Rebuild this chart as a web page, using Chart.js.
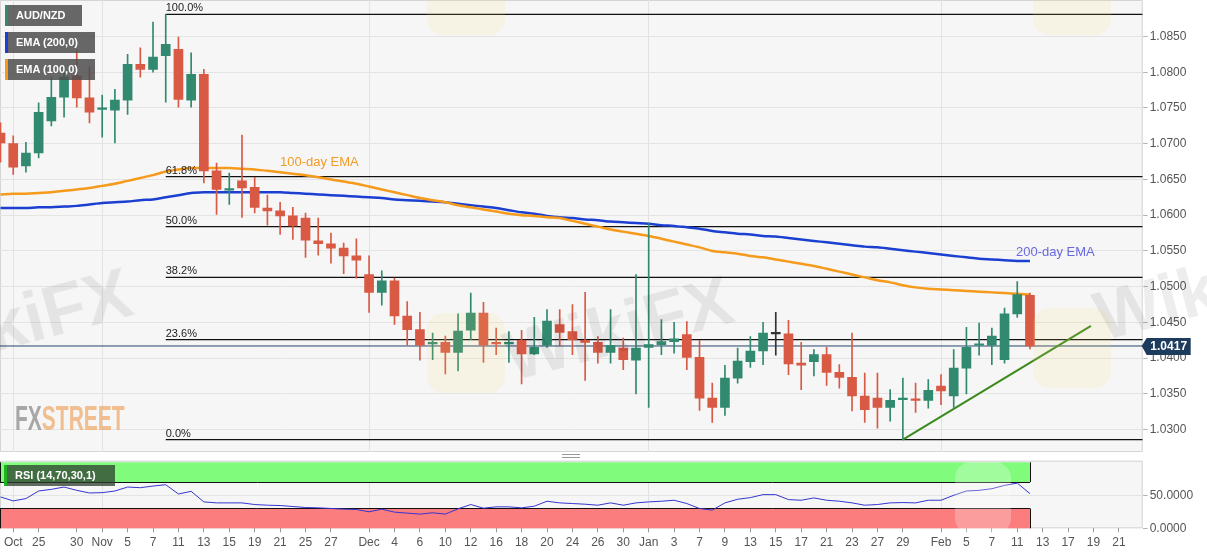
<!doctype html>
<html lang="en">
  <head>
    <meta charset="UTF-8" />
    <title>AUD/NZD daily</title>
    <script src="https://cdn.jsdelivr.net/npm/chart.js"></script>
    <style>
      body {
        margin: 0;
        background: #fff;
        font-family: "Liberation Sans", Arial, sans-serif;
      }
      #wrap {
        position: relative;
        width: 1207px;
        height: 555px;
        overflow: hidden;
      }
      #priceBox {
        position: absolute;
        left: 0;
        top: 0;
        width: 1207px;
        height: 452px;
      }
      #rsiBox {
        position: absolute;
        left: 0;
        top: 455px;
        width: 1207px;
        height: 100px;
      }
      .tag {
        position: absolute;
        left: 5px;
        height: 21px;
        line-height: 21px;
        padding-left: 8px;
        box-sizing: border-box;
        border-left: 3px solid;
        background: rgba(78, 78, 78, 0.85);
        color: #fff;
        font-weight: bold;
        font-size: 11px;
      }
      .note {
        position: absolute;
        font-size: 13px;
        line-height: 15px;
        white-space: nowrap;
      }
      .wm {
        position: absolute;
        font-size: 70px;
        font-weight: bold;
        line-height: 70px;
        color: rgba(0, 0, 0, 0.07);
        transform: rotate(-15deg);
        transform-origin: left bottom;
        white-space: nowrap;
        pointer-events: none;
      }
      .sq {
        position: absolute;
        width: 78px;
        height: 80px;
        border-radius: 16px;
        background: rgba(250, 215, 110, 0.13);
        pointer-events: none;
      }
      #logo {
        position: absolute;
        left: 15px;
        top: 400px;
        font-size: 35px;
        line-height: 35px;
        font-weight: bold;
        transform: scaleX(0.6);
        transform-origin: left top;
        opacity: 0.75;
      }
      #handle {
        position: absolute;
        left: 562px;
        top: 454px;
        width: 18px;
        height: 2px;
        border-top: 1px solid #999;
        border-bottom: 1px solid #999;
      }
    </style>
  </head>

  <body>
    <div id="wrap">
      <div id="priceBox"><canvas id="priceChart"></canvas></div>
      <div id="rsiBox"><canvas id="rsiChart"></canvas></div>

      <!-- faint watermarks -->
      <div class="sq" style="left: 427px; top: -45px"></div>
      <div class="sq" style="left: 1033px; top: -45px"></div>
      <div class="sq" style="left: 427px; top: 313px"></div>
      <div class="sq" style="left: 1033px; top: 308px"></div>
      <div class="sq" style="left: 955px; top: 462px; width: 56px; height: 72px; background: rgba(255, 255, 255, 0.25)"></div>
      <div class="wm" style="left: -86px; top: 315px">WikiFX</div>
      <div class="wm" style="left: 515px; top: 322px">WikiFX</div>
      <div class="wm" style="left: 1105px; top: 282px">WikiFX</div>

      <div class="tag" style="top: 5px; width: 77px; border-color: #2f8a70">AUD/NZD</div>
      <div class="tag" style="top: 32px; width: 90px; border-color: #1b3fd1">EMA (200,0)</div>
      <div class="tag" style="top: 59px; width: 90px; border-color: #f39a1e">EMA (100,0)</div>
      <div class="tag" style="top: 465px; left: 4px; width: 111px; background: rgba(45, 60, 45, 0.75); border-color: #1fb41f">
        RSI (14,70,30,1)
      </div>

      <div class="note" style="left: 280px; top: 154px; color: #f29c26">100-day EMA</div>
      <div class="note" style="left: 1016px; top: 244px; color: #6868e0">200-day EMA</div>

      <div id="logo"><span style="color: #8c8c8c">FX</span><span style="color: #eeab6c">STREET</span></div>
      <div id="handle"></div>
    </div>

    <script>
      // daily candles, Oct 22 2019 -> Feb 12 2020 (weekdays)
      const dates = [
        "Oct 22", "Oct 23", "Oct 24", "Oct 25", "Oct 28", "Oct 29", "Oct 30", "Oct 31",
        "Nov 1", "Nov 4", "Nov 5", "Nov 6", "Nov 7", "Nov 8", "Nov 11", "Nov 12", "Nov 13",
        "Nov 14", "Nov 15", "Nov 18", "Nov 19", "Nov 20", "Nov 21", "Nov 22", "Nov 25",
        "Nov 26", "Nov 27", "Nov 28", "Nov 29",
        "Dec 2", "Dec 3", "Dec 4", "Dec 5", "Dec 6", "Dec 9", "Dec 10", "Dec 11", "Dec 12",
        "Dec 13", "Dec 16", "Dec 17", "Dec 18", "Dec 19", "Dec 20", "Dec 23", "Dec 24",
        "Dec 25", "Dec 26", "Dec 27", "Dec 30", "Dec 31",
        "Jan 1", "Jan 2", "Jan 3", "Jan 6", "Jan 7", "Jan 8", "Jan 9", "Jan 10", "Jan 13",
        "Jan 14", "Jan 15", "Jan 16", "Jan 17", "Jan 20", "Jan 21", "Jan 22", "Jan 23",
        "Jan 24", "Jan 27", "Jan 28", "Jan 29", "Jan 30", "Jan 31",
        "Feb 3", "Feb 4", "Feb 5", "Feb 6", "Feb 7", "Feb 10", "Feb 11", "Feb 12",
      ];

      const open = [
        1.0715, 1.07, 1.0669, 1.0687, 1.0732, 1.0765, 1.0795, 1.0764, 1.0748, 1.0747,
        1.0761, 1.0811, 1.0804, 1.0823, 1.0832, 1.0761, 1.0797, 1.0662, 1.0635, 1.0648,
        1.0639, 1.061, 1.0606, 1.0599, 1.0596, 1.0564, 1.056, 1.0554, 1.0543, 1.0517,
        1.0492, 1.0508, 1.0459, 1.044, 1.042, 1.0422, 1.0408, 1.0439, 1.0463, 1.0421,
        1.042, 1.0425, 1.0406, 1.0418, 1.0447, 1.0437, 1.0425, 1.0422, 1.0408, 1.0414,
        1.0397, 1.0415, 1.0419, 1.0423, 1.0433, 1.0401, 1.0344, 1.0331, 1.0372, 1.0395,
        1.041, 1.0434, 1.0434, 1.0393, 1.0395, 1.0405, 1.038, 1.0373, 1.0347, 1.0344,
        1.0331, 1.0342, 1.0343, 1.0341, 1.0361, 1.0347, 1.0386, 1.0418, 1.0418, 1.0398,
        1.0462, 1.0488,
      ];
      const high = [
        1.0729, 1.0711, 1.0702, 1.0757, 1.0793, 1.0807, 1.0831, 1.0807, 1.0768, 1.0776,
        1.0825, 1.0834, 1.087, 1.0881, 1.0849, 1.0827, 1.0804, 1.0673, 1.0659, 1.0712,
        1.0653, 1.0628, 1.0618, 1.0611, 1.0603, 1.0596, 1.0575, 1.0561, 1.0567, 1.0543,
        1.0522, 1.0512, 1.0479, 1.0464, 1.0435, 1.0431, 1.0462, 1.0491, 1.0478, 1.0442,
        1.0437, 1.0439, 1.0457, 1.0468, 1.0468, 1.0475, 1.0492, 1.043, 1.0468, 1.0428,
        1.0517, 1.0589, 1.0454, 1.045, 1.0451, 1.0425, 1.0365, 1.039, 1.0414, 1.043,
        1.045, 1.0464, 1.0453, 1.0422, 1.0412, 1.0415, 1.0391, 1.0435, 1.0379, 1.0379,
        1.0356, 1.0372, 1.0365, 1.037, 1.0377, 1.0412, 1.0443, 1.0449, 1.0442, 1.047,
        1.0507, 1.0491,
      ];
      const low = [
        1.0674, 1.0657, 1.066, 1.068, 1.0725, 1.0737, 1.0751, 1.0729, 1.0709, 1.0701,
        1.0741, 1.0793, 1.08, 1.0758, 1.0751, 1.0751, 1.0645, 1.0601, 1.0615, 1.0597,
        1.0603, 1.0586, 1.0573, 1.0566, 1.0541, 1.0544, 1.0533, 1.0518, 1.0512, 1.0464,
        1.0474, 1.0447, 1.0418, 1.0397, 1.0398, 1.0378, 1.0382, 1.0426, 1.0394, 1.0405,
        1.0394, 1.0364, 1.0405, 1.0415, 1.0417, 1.0405, 1.0369, 1.0393, 1.0393, 1.0384,
        1.035, 1.0331, 1.0405, 1.0407, 1.0384, 1.0327, 1.031, 1.032, 1.0365, 1.0387,
        1.0391, 1.0404, 1.0377, 1.0356, 1.0375, 1.0362, 1.0358, 1.0326, 1.031, 1.0302,
        1.0312, 1.0286, 1.0324, 1.033, 1.0335, 1.0331, 1.035, 1.0404, 1.0391, 1.0393,
        1.0457, 1.0413,
      ];
      const close = [
        1.0701, 1.0667, 1.0687, 1.0744, 1.0765, 1.0793, 1.0764, 1.0744, 1.0749, 1.0761,
        1.0811, 1.0804, 1.0821, 1.0839, 1.0762, 1.0797, 1.0662, 1.0636, 1.0637, 1.0638,
        1.0611, 1.0606, 1.0599, 1.0585, 1.0565, 1.056, 1.0554, 1.0543, 1.0537, 1.0492,
        1.0508, 1.0459, 1.044, 1.0418, 1.0421, 1.0408, 1.0438, 1.0463, 1.0418, 1.042,
        1.0421, 1.0406, 1.0415, 1.0452, 1.0436, 1.0426, 1.0422, 1.0408, 1.0418, 1.0398,
        1.0414, 1.0419, 1.0423, 1.0427, 1.0401, 1.0344, 1.0331, 1.0372, 1.0396, 1.041,
        1.0435, 1.0434, 1.0392, 1.039, 1.0405, 1.038, 1.0373, 1.0347, 1.0328, 1.0331,
        1.0341, 1.0343, 1.0341, 1.0355, 1.0354, 1.0386, 1.0415, 1.0419, 1.0431, 1.0462,
        1.0489, 1.0417,
      ];

      const ema100 = [
        1.0629, 1.063, 1.063, 1.0631, 1.0632, 1.0634, 1.0636, 1.0638, 1.0641, 1.0644,
        1.0648, 1.0652, 1.0656, 1.0661, 1.0664, 1.0666, 1.0666, 1.0666, 1.0666, 1.0665,
        1.0664, 1.0662, 1.066, 1.0658, 1.0656, 1.0653, 1.065, 1.0647, 1.0644, 1.064,
        1.0636, 1.0632, 1.0628, 1.0624, 1.0621, 1.0618, 1.0614, 1.0611, 1.0608, 1.0605,
        1.0602, 1.06, 1.0599, 1.0597, 1.0596, 1.0592, 1.0588, 1.0584, 1.058, 1.0577,
        1.0574, 1.0571, 1.0567, 1.0563, 1.0559, 1.0555, 1.055, 1.0548, 1.0546, 1.0543,
        1.0541, 1.0538, 1.0535, 1.0532, 1.0529, 1.0525, 1.0521, 1.0517, 1.0513, 1.0509,
        1.0506, 1.0502, 1.0499, 1.0497, 1.0496, 1.0495, 1.0494, 1.0493, 1.0492, 1.0491,
        1.049, 1.0489,
      ];
      const ema200 = [
        1.061, 1.061, 1.061, 1.0611, 1.0611, 1.0612, 1.0613, 1.0615, 1.0617, 1.0618,
        1.0619, 1.0621, 1.0622, 1.0625, 1.0628, 1.0631, 1.0632, 1.0632, 1.0632, 1.0632,
        1.0632, 1.0632, 1.0632, 1.0631, 1.063, 1.0629, 1.0628, 1.0627, 1.0626, 1.0625,
        1.0624, 1.0622, 1.0621, 1.062, 1.0619, 1.0618, 1.0616, 1.0614, 1.0612, 1.061,
        1.0607, 1.0604, 1.0602, 1.0599, 1.0597, 1.0596, 1.0594, 1.0593, 1.0591, 1.059,
        1.0589, 1.0588, 1.0586, 1.0585, 1.0583, 1.0581, 1.0578, 1.0576, 1.0574, 1.0573,
        1.0571, 1.057, 1.0568, 1.0566, 1.0564, 1.0562, 1.056, 1.0558, 1.0556, 1.0555,
        1.0553, 1.0551, 1.0549, 1.0547, 1.0545, 1.0543, 1.0541, 1.0539, 1.0538, 1.0537,
        1.0536, 1.0536,
      ];

      const rsi = [
        47.5, 41.5, 45, 56.5, 59, 62.5, 57.5, 53.5, 54, 56.5, 62.5, 61.5, 64, 66, 52, 56,
        40, 38.5, 38.5, 38.5, 36, 35, 34.5, 33, 31.5, 31, 30, 29, 28.5, 25, 29, 24.5, 23,
        21.5, 23.5, 21.5, 29.5, 36, 30.5, 32.5, 32.5, 31, 33.5, 41, 38.5, 37.5, 36.5, 35,
        38.5, 35, 38.5, 40, 41, 42.5, 37.5, 30, 27.5, 38.5, 44, 46.5, 51, 51, 43.5, 42.5,
        46, 42.5, 41, 38.5, 35, 36, 38.5, 39, 38.5, 42.5, 42.5, 50, 56.5, 57.5, 60, 65,
        68.5, 52.5,
      ];

      // fibonacci retracement of the Nov 8 high -> Jan 29 low
      const fibNames = ["0.0%", "23.6%", "38.2%", "50.0%", "61.8%", "100.0%"];
      const fibLevels = [1.0286, 1.0426, 1.0513, 1.0584, 1.0654, 1.0881];
      const fibFrom = 13;

      // support line from the Jan 29 low
      const trendX = [71, 85.8];
      const trendY = [1.0286, 1.0445];

      const rsiBands = [
        [70, 100, "#80fb7c"],
        [0, 30, "#fb7d7d"],
      ];

      const priceTicks = [
        1.03, 1.035, 1.04, 1.045, 1.05, 1.055, 1.06, 1.065, 1.07, 1.075, 1.08, 1.085,
      ];
      const rsiTicks = [0, 50];
      const tickIndex = [
        1, 3, 6, 8, 10, 12, 14, 16, 18, 20, 22, 24, 26, 29, 31, 33, 35, 37, 39, 41, 43, 45,
        47, 49, 51, 53, 55, 57, 59, 61, 63, 65, 67, 69, 71, 74, 76, 78, 80, 82, 84, 86, 88,
      ];
      const tickText = [
        "Oct", "25", "30", "Nov", "5", "7", "11", "13", "15", "19", "21", "25", "27",
        "Dec", "4", "6", "10", "12", "16", "18", "20", "24", "26", "30",
        "Jan", "3", "7", "9", "13", "15", "17", "21", "23", "27", "29",
        "Feb", "5", "7", "11", "13", "17", "19", "21",
      ];

      const GREEN = "#31896f";
      const RED = "#d85944";
      const DOJI = "#333333";
      const FONT = '"Liberation Sans", Arial, sans-serif';
      const X_MIN = -0.04;
      const X_MAX = 89.87;
      const AXIS_W = 64.3;

      const lastPrice = close[close.length - 1];
      const lastIdx = dates.length - 1;
      const monthIdx = tickIndex.filter((v, k) => isNaN(parseInt(tickText[k])));

      const candleColor = dates.map((d, i) =>
        close[i] > open[i] ? GREEN : close[i] < open[i] ? RED : DOJI,
      );

      const panelBg = {
        id: "panelBg",
        beforeDraw(chart) {
          const { ctx, chartArea: a } = chart;
          ctx.save();
          ctx.fillStyle = "#f6f6f6";
          ctx.fillRect(a.left, a.top, a.right - a.left, a.bottom - a.top);
          ctx.strokeStyle = "#d5d5d5";
          ctx.lineWidth = 1;
          ctx.strokeRect(a.left + 0.5, a.top + 0.5, a.right - a.left - 1, a.bottom - a.top - 1);
          ctx.restore();
        },
      };

      const fibText = {
        id: "fibText",
        afterDatasetsDraw(chart) {
          const { ctx, scales } = chart;
          ctx.save();
          ctx.font = "11px " + FONT;
          ctx.fillStyle = "#222";
          ctx.textAlign = "left";
          ctx.textBaseline = "bottom";
          const px = scales.x.getPixelForValue(fibFrom);
          fibLevels.forEach((lv, k) => {
            ctx.fillText(fibNames[k], px, scales.y.getPixelForValue(lv) - 0.5);
          });
          ctx.restore();
        },
      };

      const priceTag = {
        id: "priceTag",
        afterDraw(chart) {
          const { ctx, chartArea: a, scales } = chart;
          const py = scales.y.getPixelForValue(lastPrice);
          const l = a.right + 4;
          ctx.save();
          ctx.fillStyle = "#1d3b5d";
          ctx.beginPath();
          ctx.moveTo(a.right - 1, py);
          ctx.lineTo(l, py - 8);
          ctx.lineTo(l + 44, py - 8);
          ctx.lineTo(l + 44, py + 9);
          ctx.lineTo(l, py + 9);
          ctx.closePath();
          ctx.fill();
          ctx.fillStyle = "#fff";
          ctx.font = "bold 12px " + FONT;
          ctx.textAlign = "center";
          ctx.textBaseline = "middle";
          ctx.fillText(lastPrice.toFixed(4), l + 22, py + 1);
          ctx.restore();
        },
      };

      const bands = {
        id: "bands",
        beforeDatasetsDraw(chart) {
          const { ctx, scales } = chart;
          const x0 = scales.x.left;
          const x1 = scales.x.getPixelForValue(lastIdx);
          ctx.save();
          rsiBands.forEach(([lo, hi, col]) => {
            const yTop = scales.y.getPixelForValue(hi);
            const yBot = scales.y.getPixelForValue(lo);
            ctx.fillStyle = col;
            ctx.fillRect(x0, yTop, x1 - x0, yBot - yTop);
            ctx.strokeStyle = "#111";
            ctx.lineWidth = 1;
            ctx.beginPath();
            const edge = lo === 0 ? yTop : yBot;
            ctx.moveTo(x0, Math.round(edge) + 0.5);
            ctx.lineTo(x1, Math.round(edge) + 0.5);
            ctx.moveTo(Math.round(x1) + 0.5, yTop);
            ctx.lineTo(Math.round(x1) + 0.5, yBot);
            ctx.moveTo(x0 + 0.5, yTop);
            ctx.lineTo(x0 + 0.5, yBot);
            ctx.stroke();
          });
          ctx.restore();
        },
      };

      function hline(y, from, to, color, width, order) {
        return {
          type: "line",
          data: [
            { x: from, y: y },
            { x: to, y: y },
          ],
          borderColor: color,
          borderWidth: width,
          pointRadius: 0,
          order: order,
        };
      }

      const priceSets = [
        {
          type: "bar",
          data: dates.map((d, i) => ({ x: i, y: [low[i], high[i]] })),
          backgroundColor: candleColor,
          barThickness: 1,
          grouped: false,
          order: 1,
        },
        {
          type: "bar",
          data: dates.map((d, i) => ({ x: i, y: [open[i], close[i]] })),
          backgroundColor: candleColor,
          barThickness: 9,
          minBarLength: 1.5,
          grouped: false,
          order: 0,
        },
        {
          type: "line",
          data: dates.map((d, i) => ({ x: i, y: ema100[i] })),
          borderColor: "#f59a1b",
          borderWidth: 2.5,
          pointRadius: 0,
          tension: 0.3,
          order: 2,
        },
        {
          type: "line",
          data: dates.map((d, i) => ({ x: i, y: ema200[i] })),
          borderColor: "#1b3fd1",
          borderWidth: 2.5,
          pointRadius: 0,
          tension: 0.3,
          order: 2,
        },
        {
          type: "line",
          data: trendX.map((x, k) => ({ x: x, y: trendY[k] })),
          borderColor: "#3b8a1d",
          borderWidth: 2,
          pointRadius: 0,
          order: 2,
        },
        hline(lastPrice, X_MIN, X_MAX, "#25456c", 1, 3),
      ];
      fibLevels.forEach((lv) => priceSets.push(hline(lv, fibFrom, X_MAX, "#111", 1.3, 3)));

      new Chart(document.getElementById("priceChart"), {
        type: "bar",
        data: { datasets: priceSets },
        options: {
          responsive: true,
          maintainAspectRatio: false,
          animation: false,
          layout: { padding: 0 },
          plugins: { legend: { display: false }, tooltip: { enabled: false } },
          scales: {
            x: {
              type: "linear",
              min: X_MIN,
              max: X_MAX,
              offset: false,
              grid: { offset: false, color: "#e2e2e2", drawTicks: false },
              border: { display: false },
              ticks: { display: false },
              afterBuildTicks: (s) => {
                s.ticks = monthIdx.map((v) => ({ value: v }));
              },
              afterFit: (s) => {
                s.height = 0;
                s.paddingLeft = 0;
                s.paddingRight = 0;
              },
            },
            y: {
              position: "right",
              min: 1.02687,
              max: 1.0901,
              grid: { color: "#e4e4e4", tickColor: "#b5b5b5", tickLength: 5 },
              border: { display: false },
              ticks: {
                color: "#555",
                padding: 2,
                font: { family: FONT, size: 12 },
                callback: (v) => Number(v).toFixed(4),
              },
              afterBuildTicks: (s) => {
                s.ticks = priceTicks.map((v) => ({ value: v }));
              },
              afterFit: (s) => {
                s.width = AXIS_W;
                s.paddingTop = 0;
                s.paddingBottom = 0;
              },
            },
          },
        },
        plugins: [panelBg, fibText, priceTag],
      });

      new Chart(document.getElementById("rsiChart"), {
        type: "line",
        data: {
          datasets: [
            {
              data: dates.map((d, i) => ({ x: i, y: rsi[i] })),
              borderColor: "#3535d0",
              borderWidth: 1,
              pointRadius: 0,
            },
          ],
        },
        options: {
          responsive: true,
          maintainAspectRatio: false,
          animation: false,
          layout: { padding: { top: 5.7, left: 0, right: 0, bottom: 0 } },
          plugins: { legend: { display: false }, tooltip: { enabled: false } },
          scales: {
            x: {
              type: "linear",
              min: X_MIN,
              max: X_MAX,
              grid: {
                color: (c) => (c.tick && monthIdx.includes(c.tick.value) ? "#e2e2e2" : "rgba(0,0,0,0)"),
                tickColor: "#9a9a9a",
                tickLength: 4,
              },
              border: { display: false },
              ticks: {
                autoSkip: false,
                maxRotation: 0,
                padding: 3,
                color: "#555",
                font: { family: FONT, size: 12 },
                callback: (v) => tickText[tickIndex.indexOf(v)],
              },
              afterBuildTicks: (s) => {
                s.ticks = tickIndex.map((v) => ({ value: v }));
              },
              afterFit: (s) => {
                s.height = 26.7;
                s.paddingLeft = 0;
                s.paddingRight = 0;
              },
            },
            y: {
              position: "right",
              min: 0,
              max: 102.4,
              grid: {
                color: (c) => (c.tick && c.tick.value === 50 ? "#e4e4e4" : "rgba(0,0,0,0)"),
                tickColor: "#b5b5b5",
                tickLength: 5,
              },
              border: { display: false },
              ticks: {
                color: "#555",
                padding: 2,
                font: { family: FONT, size: 12 },
                callback: (v) => Number(v).toFixed(4),
              },
              afterBuildTicks: (s) => {
                s.ticks = rsiTicks.map((v) => ({ value: v }));
              },
              afterFit: (s) => {
                s.width = AXIS_W;
                s.paddingTop = 0;
                s.paddingBottom = 0;
              },
            },
          },
        },
        plugins: [panelBg, bands],
      });
    </script>
  </body>
</html>
